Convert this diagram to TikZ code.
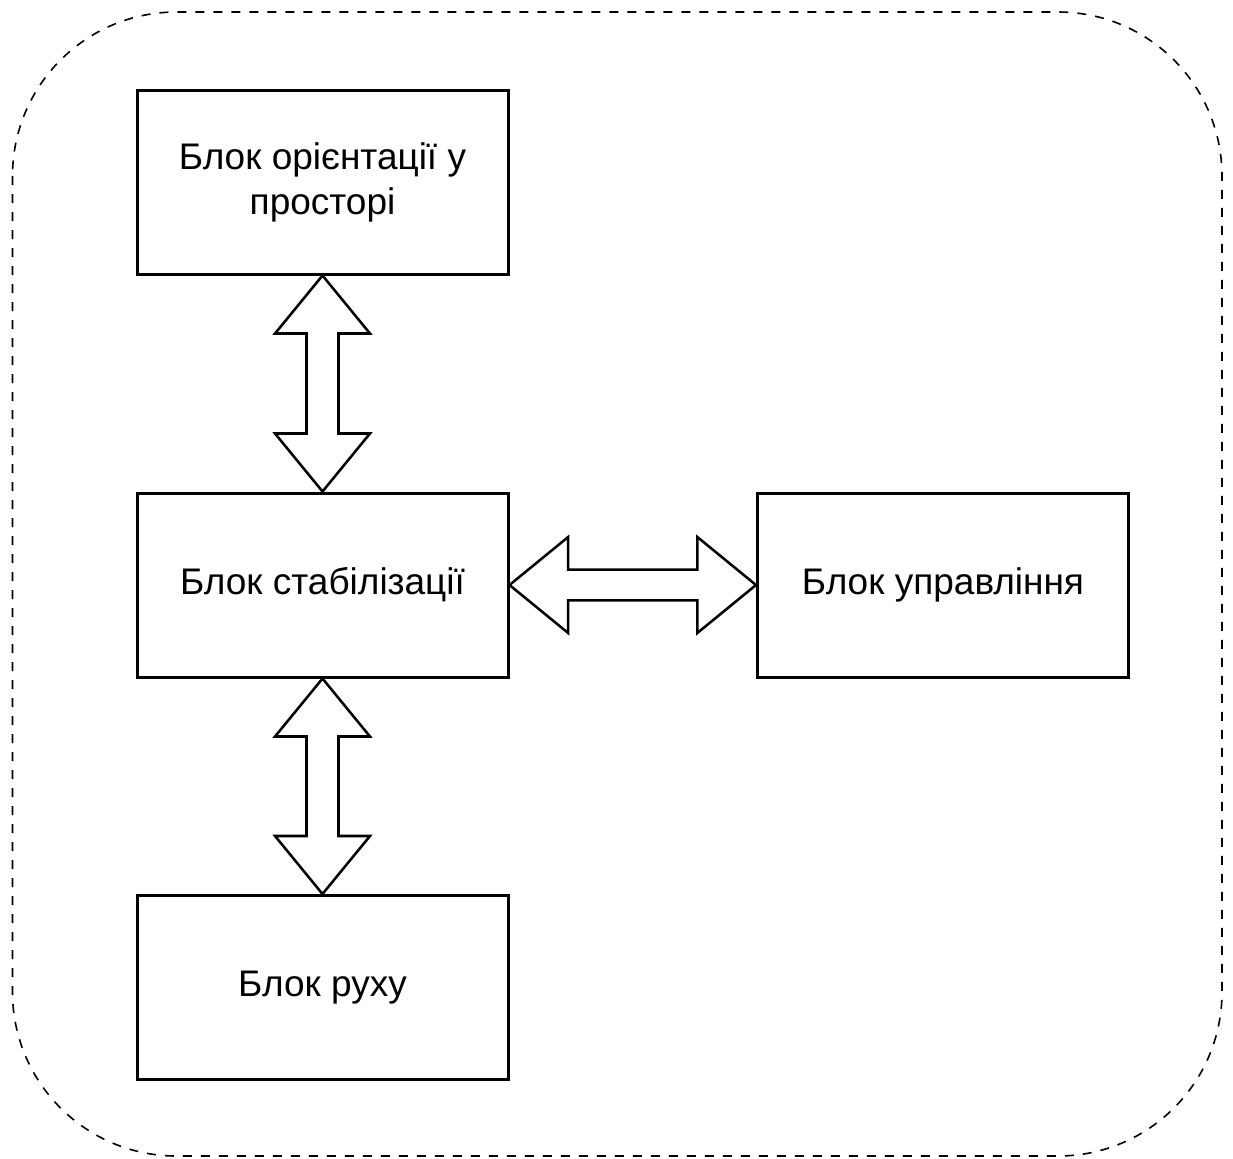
\documentclass[tikz,border=0pt]{standalone}
\usepackage{fontspec}
\setmainfont{Liberation Sans}
\usetikzlibrary{calc}
\begin{document}
\begin{tikzpicture}[x=0.75pt,y=-0.75pt,
  blk/.style={draw=black,line width=2.25pt,fill=white,minimum width=278.25pt,minimum height=138pt,
    inner sep=0pt,align=center,font=\fontsize{27.75}{33.75}\selectfont},
  blockarrow/.style={draw=black,line width=1.9pt,fill=white,line join=miter},
  frame/.style={draw=black,line width=1.2pt,dash pattern=on 6.75pt off 6.75pt,rounded corners=123pt}]
\useasboundingbox (0,0) rectangle (1233,1158);
\draw[frame] (12.5,12) rectangle (1222,1156);
\node[blk] (b1) at (322.5,182) {Блок орієнтації у\\просторі};
\node[blk] (b2) at (322.5,585) {Блок стабілізації};
\node[blk] (b3) at (943,585) {Блок управління};
\node[blk] (b4) at (322.5,987.5) {Блок руху};
% vertical double arrows
\foreach \a/\b in {b1/b2,b2/b4}{
\draw[blockarrow] let \p1=(\a.south), \p2=(\b.north) in
  (\x1,\y1) -- (\x1+35.6pt,\y1-43.5pt) -- (\x1+12pt,\y1-43.5pt) -- (\x1+12pt,\y2+43.5pt)
  -- (\x1+35.6pt,\y2+43.5pt) -- (\x1,\y2) -- (\x1-35.6pt,\y2+43.5pt) -- (\x1-12pt,\y2+43.5pt)
  -- (\x1-12pt,\y1-43.5pt) -- (\x1-35.6pt,\y1-43.5pt) -- cycle;
}
% horizontal double arrow
\draw[blockarrow] let \p1=(b2.east), \p2=(b3.west) in
  (\x1,\y1) -- (\x1+44pt,\y1+36pt) -- (\x1+44pt,\y1+11.6pt) -- (\x2-44pt,\y1+11.6pt)
  -- (\x2-44pt,\y1+36pt) -- (\x2,\y1) -- (\x2-44pt,\y1-36pt) -- (\x2-44pt,\y1-11.6pt)
  -- (\x1+44pt,\y1-11.6pt) -- (\x1+44pt,\y1-36pt) -- cycle;
\end{tikzpicture}
\end{document}
